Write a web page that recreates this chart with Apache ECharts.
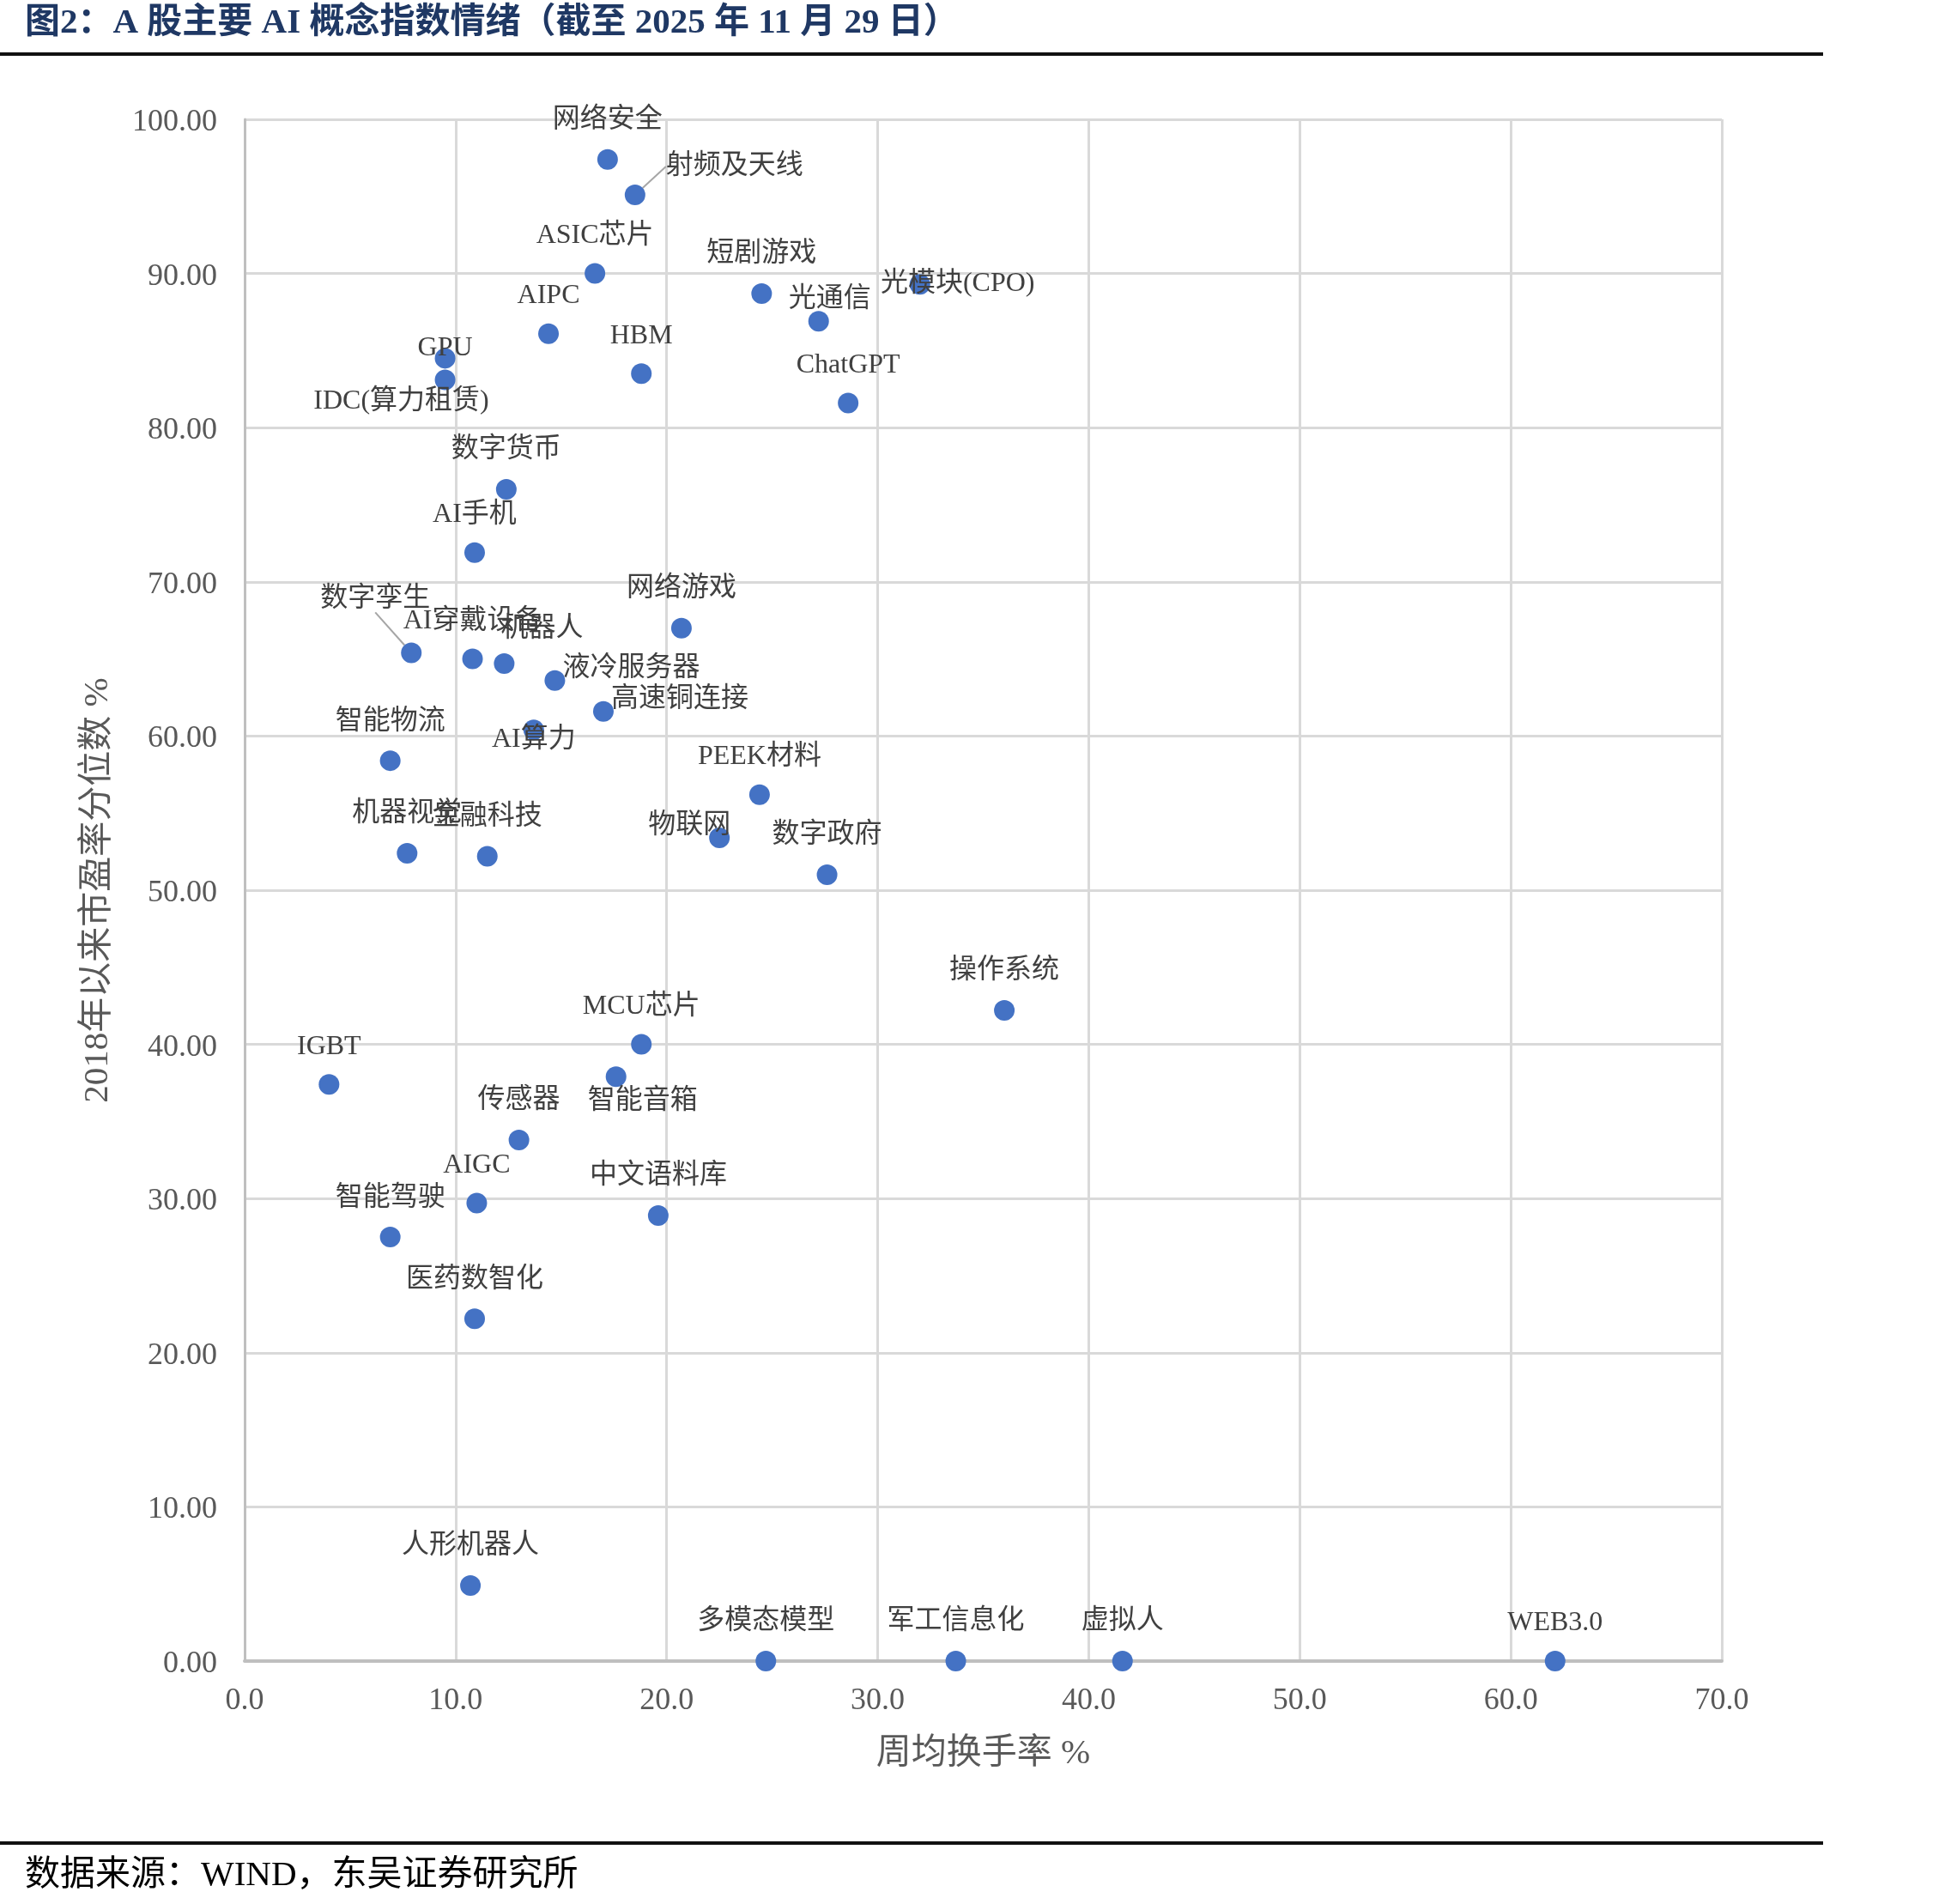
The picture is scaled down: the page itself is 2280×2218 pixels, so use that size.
<!DOCTYPE html>
<html>
<head>
<meta charset="utf-8">
<script src="https://cdn.jsdelivr.net/npm/echarts@6/dist/echarts.min.js"></script>
<style>
html, body { margin: 0; padding: 0; background: #fff; }
#chart { width: 2280px; height: 2218px; }
</style>
</head>
<body>
<div id="chart"></div>
<script>
// 概念指数名称
var names = ['网络安全', '射频及天线', 'ASIC芯片', 'AIPC', 'GPU', 'IDC(算力租赁)', 'HBM', '短剧游戏', '光通信', '光模块(CPO)',
    'ChatGPT', '数字货币', 'AI手机', '网络游戏', '数字孪生', 'AI穿戴设备', '机器人', '液冷服务器', '高速铜连接', 'AI算力',
    '智能物流', 'PEEK材料', '机器视觉', '金融科技', '物联网', '数字政府', '操作系统', 'MCU芯片', '智能音箱', 'IGBT',
    '传感器', 'AIGC', '中文语料库', '智能驾驶', '医药数智化', '人形机器人', '多模态模型', '军工信息化', '虚拟人', 'WEB3.0'];
// 周均换手率 %
var turnover = [17.2, 18.5, 16.6, 14.4, 9.5, 9.5, 18.8, 24.5, 27.2, 32.0,
    28.6, 12.4, 10.9, 20.7, 7.9, 10.8, 12.3, 14.7, 17.0, 13.7,
    6.9, 24.4, 7.7, 11.5, 22.5, 27.6, 36.0, 18.8, 17.6, 4.0,
    13.0, 11.0, 19.6, 6.9, 10.9, 10.7, 24.7, 33.7, 41.6, 62.1];
// 2018年以来市盈率分位数 %
var pePct = [97.4, 95.1, 90.0, 86.1, 84.5, 83.1, 83.5, 88.7, 86.9, 89.3,
    81.6, 76.0, 71.9, 67.0, 65.4, 65.0, 64.7, 63.6, 61.6, 60.4,
    58.4, 56.2, 52.4, 52.2, 53.4, 51.0, 42.2, 40.0, 37.9, 37.4,
    33.8, 29.7, 28.9, 27.5, 22.2, 4.9, 0, 0, 0, 0];

// 标签相对于点的位置（像素）
var labelOffsets = {
    '射频及天线': [116, -33],
    'GPU': [0, -12],
    'IDC(算力租赁)': [-51, 25],
    '光通信': [13, -26],
    '光模块(CPO)': [44, -1],
    '数字孪生': [-42, -63],
    '机器人': [44, -40],
    '液冷服务器': [89, -14],
    '高速铜连接': [89, -14],
    'AI算力': [0, 11],
    '物联网': [-35, -14],
    '智能音箱': [31, 28]
};
var withLine = ['射频及天线', '数字孪生'];

var fontSerif = '"Liberation Serif", "Times New Roman", "Noto Sans CJK SC", serif';

var seriesData = names.map(function (n, i) {
    var item = { name: n, value: [turnover[i], pePct[i]] };
    if (withLine.indexOf(n) >= 0) {
        item.labelLine = { show: true, lineStyle: { color: '#a6a6a6', width: 2 } };
    }
    return item;
});

let myChart = echarts.init(document.getElementById('chart'));

let option = {
    backgroundColor: '#fff',
    animation: false,
    title: [{
        text: '图2：A 股主要 AI 概念指数情绪（截至 2025 年 11 月 29 日）',
        left: 24,
        top: 2,
        textStyle: { fontSize: 41, fontWeight: 'bold', color: '#1f3864', fontFamily: fontSerif }
    }, {
        text: '数据来源：WIND，东吴证券研究所',
        left: 24,
        top: 2160,
        textStyle: { fontSize: 41, fontWeight: 'normal', color: '#000', fontFamily: fontSerif }
    }],
    graphic: [
        { type: 'rect', shape: { x: 0, y: 61, width: 2124, height: 4 }, style: { fill: '#111' } },
        { type: 'rect', shape: { x: 0, y: 2145, width: 2124, height: 4 }, style: { fill: '#111' } }
    ],
    grid: { left: 285, top: 139, right: 274, bottom: 283, containLabel: false },
    xAxis: {
        type: 'value',
        min: 0, max: 70, interval: 10,
        name: '周均换手率 %',
        nameLocation: 'middle',
        nameGap: 88,
        nameTextStyle: { fontSize: 41, color: '#595959', fontFamily: fontSerif },
        axisLine: { show: true, lineStyle: { color: '#bfbfbf', width: 4 } },
        axisTick: { show: false },
        axisLabel: {
            fontSize: 36, color: '#595959', fontFamily: fontSerif, margin: 29,
            formatter: function (v) { return v.toFixed(1); }
        },
        splitLine: { show: true, lineStyle: { color: '#d9d9d9', width: 3 } }
    },
    yAxis: {
        type: 'value',
        min: 0, max: 100, interval: 10,
        name: '2018年以来市盈率分位数 %',
        nameLocation: 'middle',
        nameGap: 150,
        nameTextStyle: { fontSize: 41, color: '#595959', fontFamily: fontSerif },
        axisLine: { show: true, lineStyle: { color: '#bfbfbf', width: 3 } },
        axisTick: { show: false },
        axisLabel: {
            margin: 32,
            formatter: function (v) { return '{v|' + v.toFixed(2) + '}'; },
            rich: {
                v: { fontSize: 36, color: '#595959', fontFamily: fontSerif, padding: [7, 0, 0, 0] }
            }
        },
        splitLine: { show: true, lineStyle: { color: '#d9d9d9', width: 3 } }
    },
    series: [{
        type: 'scatter',
        symbol: 'circle',
        symbolSize: 24,
        itemStyle: { color: '#4472c4', opacity: 1 },
        data: seriesData,
        label: {
            show: true,
            position: 'inside',
            formatter: '{b}',
            fontSize: 32,
            color: '#404040',
            fontFamily: fontSerif
        },
        labelLayout: function (params) {
            var n = names[params.dataIndex];
            var o = labelOffsets[n] || [0, /^[A-Za-z]/.test(n) ? -44 : -46];
            return { dx: o[0], dy: o[1] };
        },
        emphasis: { disabled: true }
    }]
};

myChart.setOption(option);
</script>
</body>
</html>
